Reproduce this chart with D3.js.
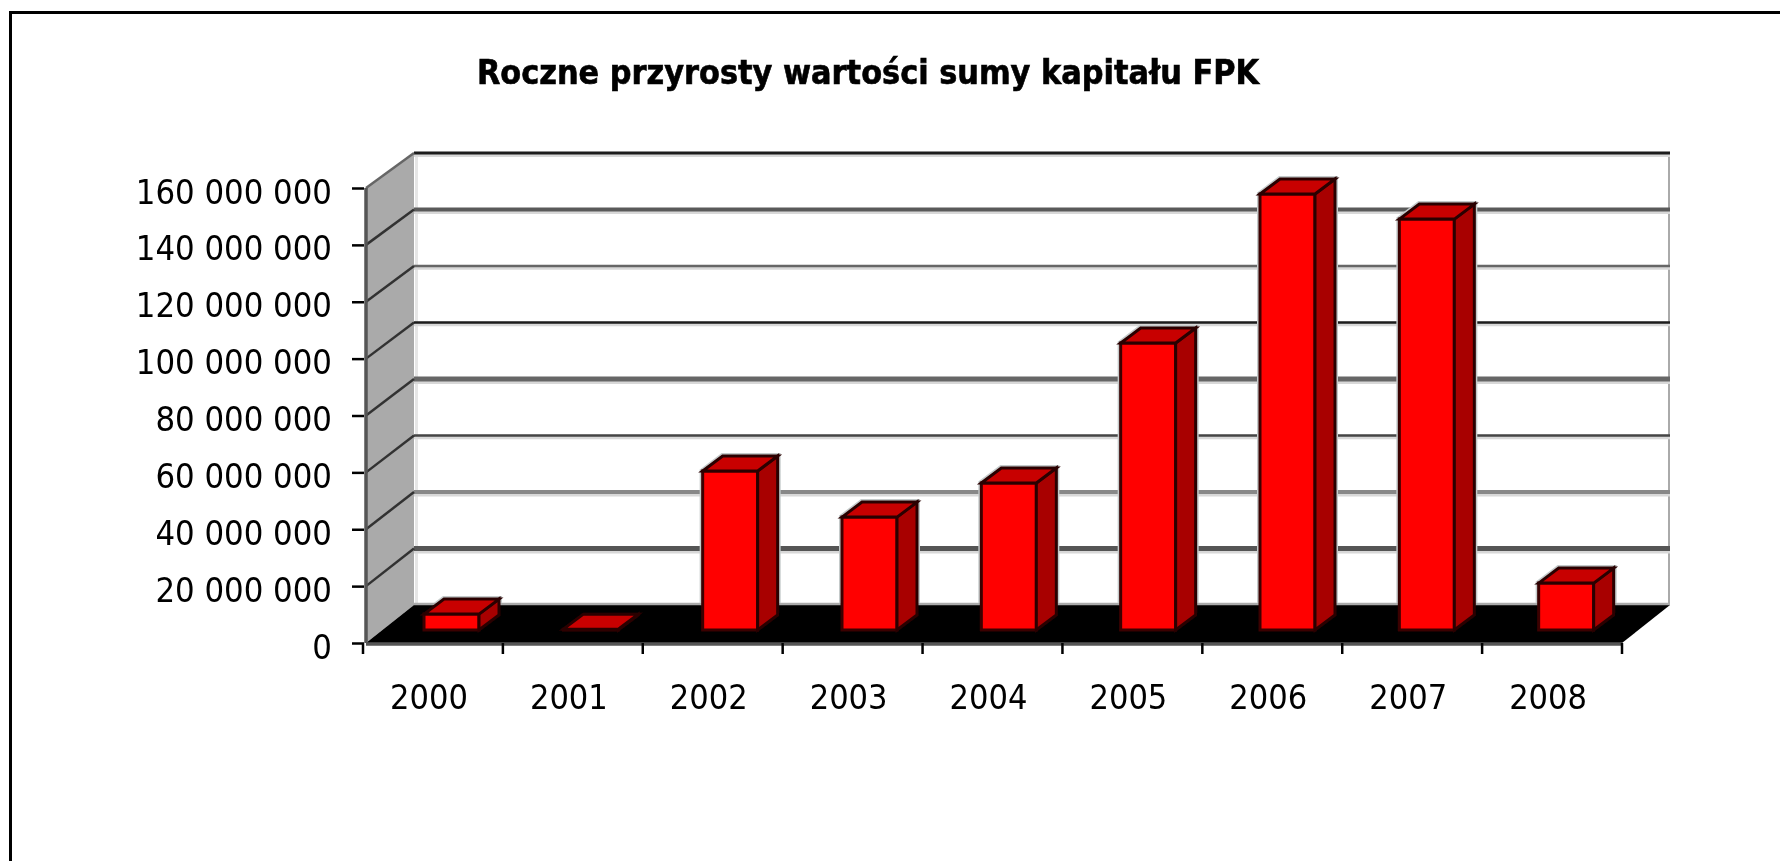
<!DOCTYPE html>
<html>
<head>
<meta charset="utf-8">
<script src="https://cdn.jsdelivr.net/npm/d3@7"></script>
<style>
  html, body { margin: 0; padding: 0; background: #fff; }
  svg { display: block; }
  text { font-family: "DejaVu Sans", sans-serif; font-stretch: condensed; fill: #000; }
</style>
</head>
<body>
<svg id="svg"></svg>
<script>
const svgWidth = 1780;
const svgHeight = 861;

const years = ["2000", "2001", "2002", "2003", "2004", "2005", "2006", "2007", "2008"];
const increments = [5600000, 300000, 55900000, 39700000, 51700000, 100900000, 153300000, 144500000, 16500000];
const yTicks = [0, 20000000, 40000000, 60000000, 80000000, 100000000, 120000000, 140000000, 160000000];

// the source is a resampled bitmap, so gridlines come out uneven (bottom to top, floor skipped)
const gridColors = ["#555", "#888", "#444", "#666", "#1a1a1a", "#666", "#5a5a5a", "#1a1a1a"];
const gridWidths = [5, 4, 2.5, 5, 2.5, 2.5, 4, 3];

const title = "Roczne przyrosty wartości sumy kapitału FPK";

let svg = d3.select("#svg").attr("width", svgWidth).attr("height", svgHeight);

const spaced = d3.formatLocale({ decimal: ",", thousands: " ", grouping: [3], currency: ["", ""] }).format(",d");

// front plane of the 3D box
const xScale = d3.scaleBand().domain(years).range([363, 1622]);
// bars drift a little against the ticks in the source
const xBars = d3.scaleBand().domain(years).range([364, 1618]);
const yScale = d3.scaleLinear().domain([0, 160000000]).range([643, 188]);
// back wall is slightly shorter in the picture
const yBack = d3.scaleLinear().domain([0, 160000000]).range([605, 153]);

const depthX = 48;
const barWidth = 55;
const barOffset = 60;
const barDepthX = 20;
const barDepthY = 15;
const barLift = 13;

const wallLeft = 366 + depthX;
const wallRight = 1622 + depthX;

const defs = svg.append("defs");
defs.append("filter").attr("id", "soft")
  .attr("x", 0).attr("y", 0).attr("width", 1).attr("height", 1)
  .attr("filterUnits", "objectBoundingBox")
  .append("feGaussianBlur").attr("stdDeviation", 0.55);
// keeps the grey bar fringe off the black floor
defs.append("clipPath").attr("id", "above-floor")
  .append("rect").attr("x", 0).attr("y", 0).attr("width", svgWidth).attr("height", yBack(0) - 2);

// outer frame, only the top and left edges are in the picture
svg.append("path")
  .attr("d", "M1780,12.5H10.5V861")
  .attr("fill", "none").attr("stroke", "#000").attr("stroke-width", 3);

const chart = svg.append("g").attr("filter", "url(#soft)");

function poly(g, pts, fill) {
  return g.append("polygon").attr("points", pts.map(p => p.join(",")).join(" ")).attr("fill", fill);
}

function drawBox() {
  // back wall
  chart.append("rect")
    .attr("x", wallLeft).attr("y", yBack(160000000))
    .attr("width", wallRight - wallLeft).attr("height", yBack(0) - yBack(160000000))
    .attr("fill", "#fff");
  chart.append("line")
    .attr("x1", wallLeft + 2.5).attr("x2", wallLeft + 2.5)
    .attr("y1", yBack(160000000)).attr("y2", yBack(0))
    .attr("stroke", "#e6e6e6").attr("stroke-width", 3);
  chart.append("line")
    .attr("x1", wallRight).attr("x2", wallRight)
    .attr("y1", yBack(160000000)).attr("y2", yBack(0))
    .attr("stroke", "#aaa").attr("stroke-width", 4);

  // side wall
  poly(chart, [[366, yScale(160000000)], [wallLeft, yBack(160000000)], [wallLeft, yBack(0)], [366, yScale(0)]], "#aaa");

  // gridlines on the back wall and along the side wall
  const gridValues = yTicks.slice(1);
  chart.selectAll(".grid-halo").data(gridValues).join("line")
    .attr("class", "grid-halo")
    .attr("x1", wallLeft).attr("x2", wallRight)
    .attr("y1", d => yBack(d) + 1.5).attr("y2", d => yBack(d) + 1.5)
    .attr("stroke", "#d8d8d8")
    .attr("stroke-width", (d, i) => gridWidths[i] + 2);
  chart.selectAll(".grid").data(gridValues).join("line")
    .attr("class", "grid")
    .attr("x1", wallLeft).attr("x2", wallRight)
    .attr("y1", d => yBack(d)).attr("y2", d => yBack(d))
    .attr("stroke", (d, i) => gridColors[i])
    .attr("stroke-width", (d, i) => gridWidths[i]);
  chart.selectAll(".grid-side").data(gridValues).join("line")
    .attr("class", "grid-side")
    .attr("x1", 366).attr("x2", wallLeft)
    .attr("y1", d => yScale(d)).attr("y2", d => yBack(d))
    .attr("stroke", d => d === 160000000 ? "#666" : "#333")
    .attr("stroke-width", 2.5);

  // floor
  poly(chart, [[366, yScale(0)], [wallLeft, yBack(0)], [wallRight, yBack(0)], [1622, yScale(0)]], "#000");
  chart.append("line")
    .attr("x1", wallLeft).attr("x2", wallRight)
    .attr("y1", yBack(0) - 1).attr("y2", yBack(0) - 1)
    .attr("stroke", "#aaa").attr("stroke-width", 2.5);
  chart.append("line")
    .attr("x1", 366).attr("x2", 1622)
    .attr("y1", yScale(0) + 1).attr("y2", yScale(0) + 1)
    .attr("stroke", "#555").attr("stroke-width", 3.5);
  chart.append("line")
    .attr("x1", 366).attr("x2", 366)
    .attr("y1", yScale(160000000)).attr("y2", yScale(0))
    .attr("stroke", "#555").attr("stroke-width", 3.5);
}

function drawBars() {
  const bars = chart.selectAll(".bar")
    .data(years.map((year, i) => ({ year, value: increments[i] })))
    .join("g").attr("class", "bar");

  bars.each(function (d) {
    const g = d3.select(this);
    const x0 = xBars(d.year) + barOffset;
    const x1 = x0 + barWidth;
    const bottom = yScale(0) - barLift;
    const top = yScale(d.value) - barLift;
    const side = [[x1, top], [x1 + barDepthX, top - barDepthY], [x1 + barDepthX, bottom - barDepthY], [x1, bottom]];
    const cap = [[x0, top], [x0 + barDepthX, top - barDepthY], [x1 + barDepthX, top - barDepthY], [x1, top]];
    const outline = [[x0, top], [x0 + barDepthX, top - barDepthY], [x1 + barDepthX, top - barDepthY], [x1 + barDepthX, bottom - barDepthY], [x1, bottom], [x0, bottom]];

    // grey fringe left over from the resampling
    poly(g, outline, "none")
      .attr("clip-path", "url(#above-floor)")
      .attr("stroke", "#c4caca").attr("stroke-width", 6);
    poly(g, [[x0, top], [x1, top], [x1, bottom], [x0, bottom]], "#f00")
      .attr("stroke", "#3a0000").attr("stroke-width", 3);
    poly(g, side, "#a80000").attr("stroke", "#2a0000").attr("stroke-width", 3);
    poly(g, cap, "#c80000").attr("stroke", "#2a0000").attr("stroke-width", 3);
  });
}

function drawAxes() {
  const yAxis = d3.axisLeft(yScale).tickValues(yTicks).tickSize(12).tickPadding(20).tickFormat(spaced);
  const yG = chart.append("g").attr("transform", "translate(364,0)").call(yAxis);
  yG.select(".domain").remove();
  yG.selectAll(".tick line").attr("stroke", "#000").attr("stroke-width", 2.5);
  yG.selectAll("text")
    .style("font-family", '"DejaVu Sans", sans-serif')
    .style("font-size", "34.3px").attr("dy", "0.44em");

  const xAxis = d3.axisBottom(xScale).tickSize(0).tickPadding(0);
  const xG = chart.append("g").attr("transform", "translate(-4," + yScale(0) + ")").call(xAxis);
  xG.select(".domain").remove();
  xG.selectAll("text")
    .style("font-family", '"DejaVu Sans", sans-serif')
    .style("font-size", "34px").attr("y", 66).attr("dy", 0);

  // tick marks sit on the band edges, not the centres
  chart.selectAll(".x-tick").data(years.concat("end")).join("line")
    .attr("class", "x-tick")
    .attr("x1", d => d === "end" ? xScale.range()[1] : xScale(d))
    .attr("x2", d => d === "end" ? xScale.range()[1] : xScale(d))
    .attr("y1", yScale(0)).attr("y2", yScale(0) + 11)
    .attr("stroke", "#000").attr("stroke-width", 2.5);
}

function drawTitle() {
  chart.append("text")
    .attr("x", 868).attr("y", 84)
    .attr("text-anchor", "middle")
    .style("font-size", "33.8px")
    .style("font-weight", "bold")
    .style("stroke", "#000")
    .style("stroke-width", 0.6)
    .text(title);
}

drawBox();
drawBars();
drawAxes();
drawTitle();
</script>
</body>
</html>
